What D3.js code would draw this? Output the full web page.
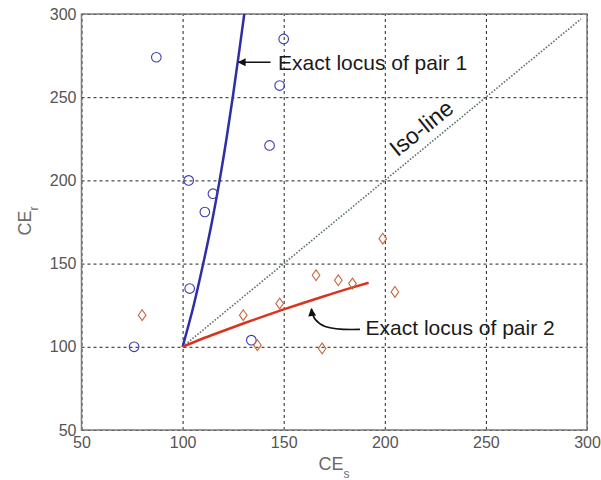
<!DOCTYPE html>
<html>
<head>
<meta charset="utf-8">
<script src="https://d3js.org/d3.v7.min.js"></script>
<style>
  html, body { margin: 0; padding: 0; background: #fff; }
  svg { display: block; font-family: "Liberation Sans", Arial, sans-serif; }
</style>
</head>
<body>
<svg id="chart" width="601" height="480"></svg>
<script>
// Axis ticks
const xTicks = [50, 100, 150, 200, 250, 300];
const yTicks = [50, 100, 150, 200, 250, 300];

// Measured certainty equivalents, pair 1 (circles)
const pair1CEs = [87, 150, 148, 143, 103, 115, 111, 103.5, 76, 134];
const pair1CEr = [274, 285, 257, 221, 200, 192, 181, 135, 100, 104];

// Measured certainty equivalents, pair 2 (diamonds)
const pair2CEs = [80, 130, 148, 137, 166, 177, 184, 205, 169, 199];
const pair2CEr = [119, 119, 126, 101, 143, 140, 138, 133, 99, 165];

// Exact locus of pair 1
const locus1CEs = [100, 105.5, 110.2, 114.5, 118.3, 121.7, 124.8, 127.7, 130.5];
const locus1CEr = [100, 125, 150, 175, 200, 225, 250, 275, 300];

// Exact locus of pair 2
const locus2CEs = [100, 110, 120, 130, 140, 150, 160, 170, 180, 192];
const locus2CEr = [100, 105, 109.5, 114, 118.3, 122.5, 126.5, 130.4, 134.2, 138.5];

// Iso-line (CE_s = CE_r)
const isoCEs = [100, 297];
const isoCEr = [100, 297];

const svg = d3.select("#chart");
const plotL = 81.5, plotR = 587, plotT = 14, plotB = 430;

const x = d3.scaleLinear().domain([50, 300]).range([plotL, plotR]);
const y = d3.scaleLinear().domain([50, 300]).range([plotB, plotT]);

const tickColor = "#555";

// Grid + tick labels
const gx = svg.append("g")
  .attr("transform", `translate(0,${plotB})`)
  .call(d3.axisBottom(x).tickValues(xTicks).tickFormat(d3.format("d"))
    .tickSizeInner(-(plotB - plotT)).tickSizeOuter(0).tickPadding(7));
gx.select(".domain").remove();
gx.selectAll(".tick line")
  .attr("stroke", "#222").attr("stroke-width", 1).attr("stroke-dasharray", "3,3");
gx.selectAll(".tick text")
  .attr("fill", tickColor).attr("font-size", 16)
  .attr("font-family", "Liberation Sans, Arial, sans-serif");

const gy = svg.append("g")
  .attr("transform", `translate(${plotL},0)`)
  .call(d3.axisLeft(y).tickValues(yTicks).tickFormat(d3.format("d"))
    .tickSizeInner(-(plotR - plotL)).tickSizeOuter(0).tickPadding(5));
gy.select(".domain").remove();
gy.selectAll(".tick line")
  .attr("stroke", "#222").attr("stroke-width", 1).attr("stroke-dasharray", "3,3");
gy.selectAll(".tick text")
  .attr("fill", tickColor).attr("font-size", 16)
  .attr("font-family", "Liberation Sans, Arial, sans-serif");

// Plot frame
svg.append("rect")
  .attr("x", plotL).attr("y", plotT)
  .attr("width", plotR - plotL).attr("height", plotB - plotT)
  .attr("fill", "none").attr("stroke", "#7a7a7a").attr("stroke-width", 1.5);

const line = d3.line().x(d => x(d[0])).y(d => y(d[1]));
const smooth = d3.line().curve(d3.curveCatmullRom).x(d => x(d[0])).y(d => y(d[1]));

// Iso-line
svg.append("path")
  .datum(isoCEs.map((v, i) => [v, isoCEr[i]]))
  .attr("d", line)
  .attr("fill", "none").attr("stroke", "#5f7468")
  .attr("stroke-width", 1.6).attr("stroke-dasharray", "1.6,1.6");

// Loci
svg.append("path")
  .datum(locus1CEs.map((v, i) => [v, locus1CEr[i]]))
  .attr("d", smooth)
  .attr("fill", "none").attr("stroke", "#2e2ea6").attr("stroke-width", 2.5);

svg.append("path")
  .datum(locus2CEs.map((v, i) => [v, locus2CEr[i]]))
  .attr("d", smooth)
  .attr("fill", "none").attr("stroke", "#d8341e").attr("stroke-width", 2.5);

// Pair 1 markers
svg.append("g").selectAll("circle")
  .data(pair1CEs.map((v, i) => [v, pair1CEr[i]]))
  .join("circle")
  .attr("cx", d => x(d[0])).attr("cy", d => y(d[1])).attr("r", 4.8)
  .attr("fill", "none").attr("stroke", "#3b3bb3").attr("stroke-width", 1.1);

// Pair 2 markers
const diamond = "M0,-5.4L3.8,0L0,5.4L-3.8,0Z";
svg.append("g").selectAll("path")
  .data(pair2CEs.map((v, i) => [v, pair2CEr[i]]))
  .join("path")
  .attr("transform", d => `translate(${x(d[0])},${y(d[1])})`)
  .attr("d", diamond)
  .attr("fill", "none").attr("stroke", "#c6663e").attr("stroke-width", 1.1);

// Arrowhead
svg.append("defs").append("marker")
  .attr("id", "arrow").attr("viewBox", "0 0 10 10")
  .attr("refX", 9).attr("refY", 5)
  .attr("markerWidth", 10).attr("markerHeight", 8)
  .attr("markerUnits", "userSpaceOnUse")
  .attr("orient", "auto")
  .append("path").attr("d", "M0,0L10,5L0,10Z").attr("fill", "#111");

const annFont = 21;

// Annotation for pair 1
svg.append("line")
  .attr("x1", x(143.5)).attr("y1", y(271))
  .attr("x2", x(127.6)).attr("y2", y(271))
  .attr("stroke", "#111").attr("stroke-width", 1.6)
  .attr("marker-end", "url(#arrow)");
svg.append("text")
  .attr("x", x(147.2)).attr("y", y(271)).attr("dy", "0.35em")
  .attr("font-size", annFont).attr("fill", "#1a1a1a")
  .text("Exact locus of pair 1");

// Annotation for pair 2
const a2x = x(187.7), a2y = y(110.5);
const t2x = x(163.2), t2y = y(124);
svg.append("path")
  .attr("d", `M${a2x},${a2y} C${a2x - 30},${a2y + 1} ${t2x + 3},${a2y - 2} ${t2x + 1},${t2y + 2}`)
  .attr("fill", "none").attr("stroke", "#111").attr("stroke-width", 1.6)
  .attr("marker-end", "url(#arrow)");
svg.append("text")
  .attr("x", x(190.5)).attr("y", y(111.3)).attr("dy", "0.35em")
  .attr("font-size", annFont).attr("fill", "#1a1a1a")
  .text("Exact locus of pair 2");

// Iso-line label
svg.append("text")
  .attr("transform", `translate(${x(218)},${y(231.5)}) rotate(-39)`)
  .attr("text-anchor", "middle").attr("dy", "0.35em")
  .attr("font-size", 23).attr("fill", "#1a1a1a")
  .text("Iso-line");

// Axis titles
const yTitle = svg.append("text")
  .attr("transform", "translate(30.5,221) rotate(-90)")
  .attr("text-anchor", "middle")
  .attr("font-size", 18).attr("fill", "#6a6a6a");
yTitle.append("tspan").text("CE");
yTitle.append("tspan").attr("font-size", 12).attr("dy", 7).text("r");

const xTitle = svg.append("text")
  .attr("x", 334).attr("y", 470)
  .attr("text-anchor", "middle")
  .attr("font-size", 18).attr("fill", "#6a6a6a");
xTitle.append("tspan").text("CE");
xTitle.append("tspan").attr("font-size", 12).attr("dy", 8).text("s");
</script>
</body>
</html>
